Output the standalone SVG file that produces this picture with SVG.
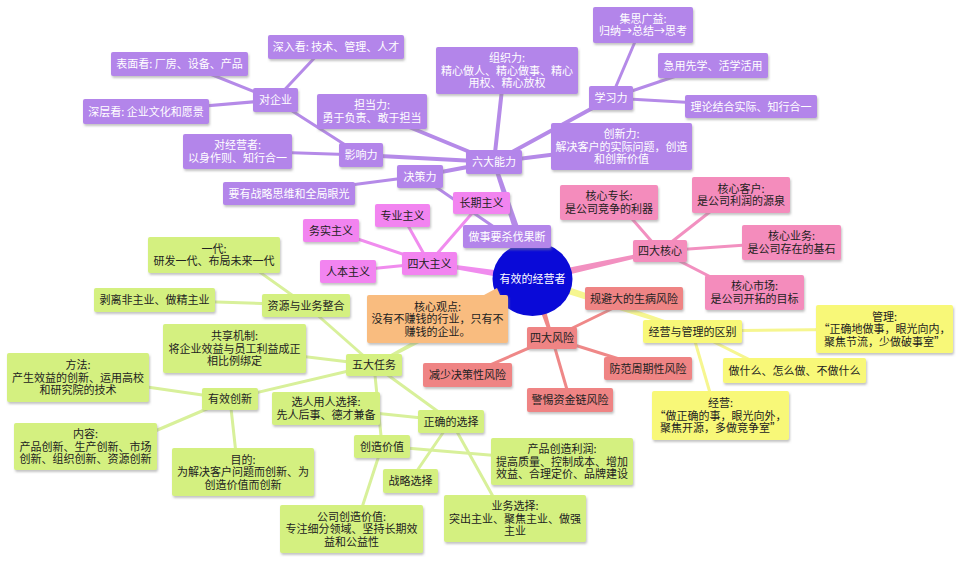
<svg xmlns="http://www.w3.org/2000/svg" width="960" height="561" viewBox="0 0 960 561">
<defs>
<filter id="sh" x="-10%" y="-10%" width="125%" height="140%">
<feDropShadow dx="1" dy="2" stdDeviation="0.8" flood-color="#888" flood-opacity="0.5"/>
</filter>
</defs>
<style>
text{font-family:"Noto Sans CJK SC","Noto Sans",sans-serif;font-size:11px;text-anchor:middle}
.n rect,.n path{filter:url(#sh)}
.p rect{fill:#b385ea}.p text{fill:#fff}
.m rect{fill:#f284f0}.m text{fill:#222}
.k rect{fill:#f48cbc}.k text{fill:#222}
.r rect{fill:#ef8484}.r text{fill:#222}
.y rect{fill:#f8f878}.y text{fill:#222}
.g rect{fill:#d4f080}.g text{fill:#222}
.o path{fill:#f9bc7f}.o text{fill:#222}
#links line{stroke-linecap:round;fill:none}
.lp{stroke:#b58ae8}.lm{stroke:#f08cee}.lk{stroke:#f290c0}.lr{stroke:#ef8888}.ly{stroke:#f6f690}.lg{stroke:#d8f09a}
.fp{fill:#b58ae8}.fm{fill:#f08cee}.fk{fill:#f290c0}.fr{fill:#ef8888}.fy{fill:#f6f690}.fg{fill:#d8f09a}
.w2{stroke-width:4}.w3{stroke-width:3}
</style>
<rect width="960" height="561" fill="#fff"/>
<g id="links">
<polygon class="fg" points="531.1,275.5 373.3,363.7 374.7,366.3 534.9,282.5"/>
<polygon class="fp" points="536.8,277.7 495.9,161.4 492.1,162.6 529.2,280.3"/>
<line class="lp w2" x1="494" y1="162" x2="503" y2="80"/>
<line class="lp w2" x1="494" y1="162" x2="380" y2="115"/>
<line class="lp w2" x1="494" y1="162" x2="361" y2="155"/>
<line class="lp w2" x1="494" y1="162" x2="420" y2="176"/>
<line class="lp w2" x1="494" y1="162" x2="611" y2="98"/>
<line class="lp w2" x1="494" y1="162" x2="621" y2="146"/>
<line class="lp w3" x1="361" y1="155" x2="275" y2="100"/>
<line class="lp w3" x1="361" y1="155" x2="237" y2="151"/>
<line class="lp w3" x1="275" y1="100" x2="320" y2="52"/>
<line class="lp w3" x1="275" y1="100" x2="195" y2="68"/>
<line class="lp w3" x1="275" y1="100" x2="146" y2="111"/>
<line class="lp w3" x1="420" y1="176" x2="289" y2="193"/>
<line class="lp w3" x1="420" y1="176" x2="507" y2="236"/>
<line class="lp w3" x1="611" y1="98" x2="640" y2="30"/>
<line class="lp w3" x1="611" y1="98" x2="700" y2="68"/>
<line class="lp w3" x1="611" y1="98" x2="751" y2="106"/>
<polygon class="fm" points="533.6,275 429.2,261.5 428.8,264.5 532.4,283"/>
<line class="lm w3" x1="429" y1="263" x2="481" y2="203"/>
<line class="lm w3" x1="429" y1="263" x2="402" y2="215"/>
<line class="lm w3" x1="429" y1="263" x2="331" y2="230"/>
<line class="lm w3" x1="429" y1="263" x2="348" y2="271"/>
<polygon class="fk" points="533.9,282.9 660.3,252.5 659.7,249.5 532.1,275.1"/>
<line class="lk w3" x1="660" y1="251" x2="620" y2="205"/>
<line class="lk w3" x1="660" y1="251" x2="725" y2="200"/>
<line class="lk w3" x1="660" y1="251" x2="791" y2="242"/>
<line class="lk w3" x1="660" y1="251" x2="740" y2="292"/>
<polygon class="fr" points="529.2,280.2 550.6,338.5 553.4,337.5 536.8,277.8"/>
<line class="lr w3" x1="552" y1="338" x2="634" y2="298"/>
<line class="lr w3" x1="552" y1="338" x2="467" y2="375"/>
<line class="lr w3" x1="552" y1="338" x2="648" y2="368"/>
<line class="lr w3" x1="552" y1="338" x2="570" y2="400"/>
<polygon class="fy" points="531.8,282.8 691.5,332.4 692.5,329.6 534.2,275.2"/>
<line class="ly w3" x1="692" y1="331" x2="884" y2="329"/>
<line class="ly w3" x1="692" y1="331" x2="770" y2="370"/>
<line class="ly w3" x1="692" y1="331" x2="715" y2="410"/>
<line class="lg w3" x1="374" y1="365" x2="306" y2="305"/>
<line class="lg w3" x1="374" y1="365" x2="234" y2="348"/>
<line class="lg w3" x1="374" y1="365" x2="230" y2="399"/>
<line class="lg w3" x1="374" y1="365" x2="451" y2="421"/>
<line class="lg w3" x1="374" y1="365" x2="382" y2="446"/>
<line class="lg w3" x1="306" y1="305" x2="240" y2="258"/>
<line class="lg w3" x1="306" y1="305" x2="154" y2="300"/>
<line class="lg w3" x1="230" y1="399" x2="78" y2="377"/>
<line class="lg w3" x1="230" y1="399" x2="120" y2="446"/>
<line class="lg w3" x1="230" y1="399" x2="238" y2="472"/>
<line class="lg w3" x1="451" y1="421" x2="326" y2="408"/>
<line class="lg w3" x1="451" y1="421" x2="410" y2="481"/>
<line class="lg w3" x1="451" y1="421" x2="505" y2="518"/>
<line class="lg w3" x1="382" y1="446" x2="562" y2="461"/>
<line class="lg w3" x1="382" y1="446" x2="355" y2="529"/>
</g>
<g id="center"><ellipse cx="532.5" cy="279" rx="40" ry="37" fill="#0a0ad8"/><text x="532.5" y="283" fill="#fff">有效的经营者</text></g>
<g id="n-liuda" class="n p"><rect x="466" y="150" width="56" height="24" rx="2"/><text x="494" y="166">六大能力</text></g>
<g id="n-zuzhi" class="n p"><rect x="436" y="47" width="142" height="47" rx="2"/><text x="507" y="62">组织力:</text><text x="507" y="74.5">精心做人、精心做事、精心</text><text x="507" y="87">用权、精心放权</text></g>
<g id="n-dandang" class="n p"><rect x="317" y="94" width="110" height="35" rx="2"/><text x="372" y="109">担当力:</text><text x="372" y="121.5">勇于负责、敢于担当</text></g>
<g id="n-yingxiang" class="n p"><rect x="339" y="143" width="44" height="24" rx="2"/><text x="361" y="159">影响力</text></g>
<g id="n-juece" class="n p"><rect x="397" y="165" width="46" height="23" rx="2"/><text x="420" y="180.5">决策力</text></g>
<g id="n-xuexi" class="n p"><rect x="589" y="86" width="44" height="24" rx="2"/><text x="611" y="102">学习力</text></g>
<g id="n-chuangxin" class="n p"><rect x="551" y="123" width="141" height="47" rx="2"/><text x="621.5" y="138">创新力:</text><text x="621.5" y="150.5">解决客户的实际问题，创造</text><text x="621.5" y="163">和创新价值</text></g>
<g id="n-duiqiye" class="n p"><rect x="253" y="88" width="45" height="24" rx="2"/><text x="275.5" y="104">对企业</text></g>
<g id="n-duijingying" class="n p"><rect x="183" y="134" width="109" height="35" rx="2"/><text x="237.5" y="149">对经营者:</text><text x="237.5" y="161.5">以身作则、知行合一</text></g>
<g id="n-shenru" class="n p"><rect x="268" y="35" width="136" height="24" rx="2"/><text x="336" y="51">深入看: 技术、管理、人才</text></g>
<g id="n-biaomian" class="n p"><rect x="111" y="52" width="137" height="24" rx="2"/><text x="179.5" y="68">表面看: 厂房、设备、产品</text></g>
<g id="n-shenceng" class="n p"><rect x="83" y="99" width="126" height="25" rx="2"/><text x="146" y="115.5">深层看: 企业文化和愿景</text></g>
<g id="n-zhanlue" class="n p"><rect x="223" y="182" width="132" height="23" rx="2"/><text x="289" y="197.5">要有战略思维和全局眼光</text></g>
<g id="n-shafa" class="n p"><rect x="463" y="225" width="88" height="23" rx="2"/><text x="507" y="240.5">做事要杀伐果断</text></g>
<g id="n-jisi" class="n p"><rect x="593" y="7" width="100" height="36" rx="2"/><text x="643" y="22.5">集思广益:</text><text x="643" y="35">归纳→总结→思考</text></g>
<g id="n-jiyong" class="n p"><rect x="658" y="53" width="110" height="25" rx="2"/><text x="713" y="69.5">急用先学、活学活用</text></g>
<g id="n-lilun" class="n p"><rect x="685" y="95" width="132" height="23" rx="2"/><text x="751" y="110.5">理论结合实际、知行合一</text></g>
<g id="n-sidazhuyi" class="n m"><rect x="402" y="252" width="55" height="23" rx="2"/><text x="429.5" y="267.5">四大主义</text></g>
<g id="n-changqi" class="n m"><rect x="453" y="192" width="57" height="22" rx="2"/><text x="481.5" y="207">长期主义</text></g>
<g id="n-zhuanye" class="n m"><rect x="375" y="204" width="55" height="23" rx="2"/><text x="402.5" y="219.5">专业主义</text></g>
<g id="n-wushi" class="n m"><rect x="303" y="219" width="56" height="23" rx="2"/><text x="331" y="234.5">务实主义</text></g>
<g id="n-renben" class="n m"><rect x="320" y="260" width="56" height="23" rx="2"/><text x="348" y="275.5">人本主义</text></g>
<g id="n-sidahexin" class="n k"><rect x="633" y="240" width="54" height="22" rx="2"/><text x="660" y="255">四大核心</text></g>
<g id="n-zhuanchang" class="n k"><rect x="560" y="185" width="98" height="35" rx="2"/><text x="609" y="200">核心专长:</text><text x="609" y="212.5">是公司竞争的利器</text></g>
<g id="n-kehu" class="n k"><rect x="692" y="177" width="98" height="36" rx="2"/><text x="741" y="192.5">核心客户:</text><text x="741" y="205">是公司利润的源泉</text></g>
<g id="n-yewu" class="n k"><rect x="742" y="225" width="99" height="35" rx="2"/><text x="791.5" y="240">核心业务:</text><text x="791.5" y="252.5">是公司存在的基石</text></g>
<g id="n-shichang" class="n k"><rect x="705" y="275" width="99" height="35" rx="2"/><text x="754.5" y="290">核心市场:</text><text x="754.5" y="302.5">是公司开拓的目标</text></g>
<g id="n-sidafengxian" class="n r"><rect x="527" y="327" width="50" height="22" rx="2"/><text x="552" y="342">四大风险</text></g>
<g id="n-guibi" class="n r"><rect x="585" y="287" width="98" height="23" rx="2"/><text x="634" y="302.5">规避大的生病风险</text></g>
<g id="n-jianshao" class="n r"><rect x="423" y="363" width="89" height="24" rx="2"/><text x="467.5" y="379">减少决策性风险</text></g>
<g id="n-fangfan" class="n r"><rect x="604" y="357" width="88" height="23" rx="2"/><text x="648" y="372.5">防范周期性风险</text></g>
<g id="n-jingti" class="n r"><rect x="527" y="388" width="86" height="24" rx="2"/><text x="570" y="404">警惕资金链风险</text></g>
<g id="n-qubie" class="n y"><rect x="643" y="320" width="99" height="23" rx="2"/><text x="692.5" y="335.5">经营与管理的区别</text></g>
<g id="n-guanli" class="n y"><rect x="816" y="305" width="137" height="48" rx="2"/><text x="884.5" y="320.5">管理:</text><text x="884.5" y="333">“正确地做事，眼光向内，</text><text x="884.5" y="345.5">聚焦节流，少做破事室”</text></g>
<g id="n-zuoshenme" class="n y"><rect x="723" y="358" width="143" height="25" rx="2"/><text x="794.5" y="374.5">做什么、怎么做、不做什么</text></g>
<g id="n-jingying" class="n y"><rect x="652" y="391" width="137" height="49" rx="2"/><text x="720.5" y="407">经营:</text><text x="720.5" y="419.5">“做正确的事，眼光向外，</text><text x="720.5" y="432">聚焦开源，多做竞争室”</text></g>
<g id="n-guandian" class="n o"><path d="M369 295 H484 L497 288 L500 295 H506 Q508 295 508 297 V341 Q508 343 506 343 H369 Q367 343 367 341 V297 Q367 295 369 295 Z"/><text x="437.5" y="310.5">核心观点:</text><text x="437.5" y="323">没有不赚钱的行业，只有不</text><text x="437.5" y="335.5">赚钱的企业。</text></g>
<g id="n-wuda" class="n g"><rect x="346" y="354" width="56" height="22" rx="2"/><text x="374" y="369">五大任务</text></g>
<g id="n-ziyuan" class="n g"><rect x="262" y="294" width="88" height="23" rx="2"/><text x="306" y="309.5">资源与业务整合</text></g>
<g id="n-yidai" class="n g"><rect x="148" y="237" width="132" height="36" rx="2"/><text x="214" y="252.5">一代:</text><text x="214" y="265">研发一代、布局未来一代</text></g>
<g id="n-boli" class="n g"><rect x="94" y="288" width="121" height="24" rx="2"/><text x="154.5" y="304">剥离非主业、做精主业</text></g>
<g id="n-gongxiang" class="n g"><rect x="163" y="324" width="143" height="49" rx="2"/><text x="234.5" y="340">共享机制:</text><text x="234.5" y="352.5">将企业效益与员工利益成正</text><text x="234.5" y="365">相比例绑定</text></g>
<g id="n-youxiao" class="n g"><rect x="202" y="388" width="56" height="22" rx="2"/><text x="230" y="403">有效创新</text></g>
<g id="n-fangfa" class="n g"><rect x="7" y="353" width="142" height="49" rx="2"/><text x="78" y="369">方法:</text><text x="78" y="381.5">产生效益的创新、运用高校</text><text x="78" y="394">和研究院的技术</text></g>
<g id="n-neirong" class="n g"><rect x="14" y="423" width="143" height="47" rx="2"/><text x="85.5" y="438">内容:</text><text x="85.5" y="450.5">产品创新、生产创新、市场</text><text x="85.5" y="463">创新、组织创新、资源创新</text></g>
<g id="n-mudi" class="n g"><rect x="172" y="448" width="142" height="48" rx="2"/><text x="243" y="463.5">目的:</text><text x="243" y="476">为解决客户问题而创新、为</text><text x="243" y="488.5">创造价值而创新</text></g>
<g id="n-xuanren" class="n g"><rect x="272" y="392" width="108" height="33" rx="2"/><text x="326" y="406">选人用人选择:</text><text x="326" y="418.5">先人后事、德才兼备</text></g>
<g id="n-zhengque" class="n g"><rect x="418" y="410" width="66" height="23" rx="2"/><text x="451" y="425.5">正确的选择</text></g>
<g id="n-chuangzao" class="n g"><rect x="354" y="435" width="56" height="23" rx="2"/><text x="382" y="450.5">创造价值</text></g>
<g id="n-zhanluexz" class="n g"><rect x="383" y="469" width="55" height="24" rx="2"/><text x="410.5" y="485">战略选择</text></g>
<g id="n-chanpin" class="n g"><rect x="491" y="438" width="142" height="47" rx="2"/><text x="562" y="453">产品创造利润:</text><text x="562" y="465.5">提高质量、控制成本、增加</text><text x="562" y="478">效益、合理定价、品牌建设</text></g>
<g id="n-yewuxz" class="n g"><rect x="444" y="495" width="142" height="47" rx="2"/><text x="515" y="510">业务选择:</text><text x="515" y="522.5">突出主业、聚焦主业、做强</text><text x="515" y="535">主业</text></g>
<g id="n-gongsi" class="n g"><rect x="280" y="505" width="143" height="48" rx="2"/><text x="351.5" y="520.5">公司创造价值:</text><text x="351.5" y="533">专注细分领域、坚持长期效</text><text x="351.5" y="545.5">益和公益性</text></g>
</svg>
